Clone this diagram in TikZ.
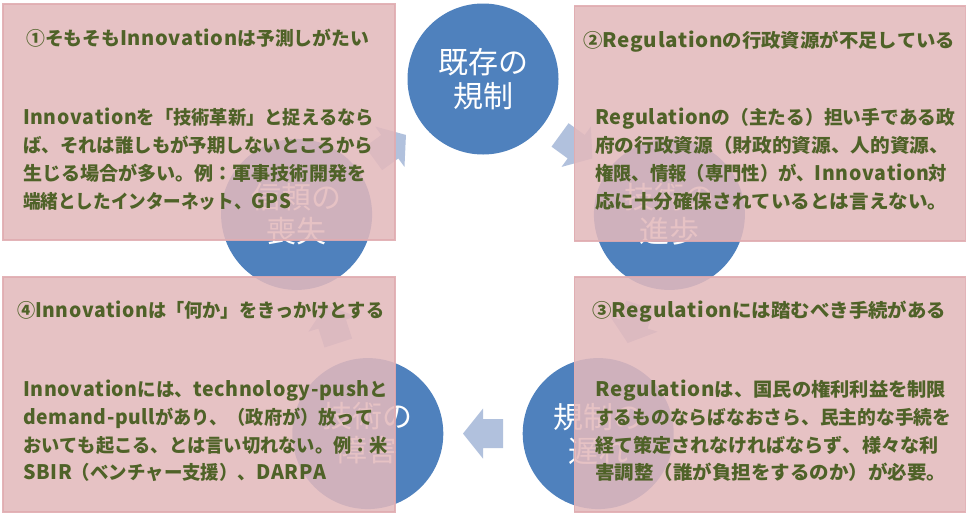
\documentclass[tikz,border=0pt]{standalone}
\usepackage{fontspec}
\usepackage{graphicx}
\setmainfont[Kerning=Off]{Noto Sans CJK JP}
\usetikzlibrary{calc}
\definecolor{circblue}{RGB}{79,129,189}
\definecolor{arrowblue}{RGB}{177,193,221}
\definecolor{boxpink}{RGB}{227,185,188}
\definecolor{boxline}{RGB}{224,172,177}
\definecolor{txtgreen}{RGB}{79,98,40}
\newcommand{\en}[1]{{\fontsize{20}{22}\selectfont\addfontfeature{LetterSpace=3}#1}}
\newcommand{\fitw}[2]{\resizebox{#1pt}{\height}{#2}}
\begin{document}
\begin{tikzpicture}[x=1pt,y=1pt,
  circ/.style={circle,fill=circblue,minimum size=151pt,inner sep=0pt,align=center,
    text=white,font=\fontsize{30}{34}\selectfont},
  arrowshape/.style={fill=arrowblue},
  textbox/.style={rectangle,fill=boxpink,fill opacity=0.87,draw=boxline,draw opacity=0.9,
    line width=1.5pt,anchor=north west,inner sep=0pt},
  txt/.style={anchor=base west,inner sep=0pt,text=txtgreen,font=\fontsize{18.8}{22}\selectfont\bfseries}]
\useasboundingbox (0,0) rectangle (966,-515);
\fill[white] (0,0) rectangle (966,-515);
\coordinate (cen) at (483,-275);
% circles
\node[circ] (c1) at ($(cen)+(90:196pt)$) {既存の\\規制};
\node[circ] (c2) at ($(cen)+(18:196pt)$) {技術の\\進歩};
\node[circ] (c3) at ($(cen)+(-54:196pt)$) {規制の\\遅れ};
\node[circ] (c4) at ($(cen)+(-126:196pt)$) {技術の\\障害};
\node[circ] (c5) at ($(cen)+(162:196pt)$) {信頼の\\喪失};
% block arrows (clockwise)
\foreach \a in {54,-18,-90,-162,126}{
  \begin{scope}[shift={($(cen)+(\a:158.6pt)$)},rotate=\a-90]
    \fill[arrowshape] (-20,-14.5) -- (0,-14.5) -- (0,-25) -- (20,0) -- (0,25) -- (0,14.5) -- (-20,14.5) -- cycle;
  \end{scope}
}
% text boxes
\node[textbox,minimum width=392pt,minimum height=236pt] (b1) at (2,-3) {};
\node[textbox,minimum width=391pt,minimum height=235pt] (b2) at (573.5,-5) {};
\node[textbox,minimum width=391pt,minimum height=235pt] (b3) at (573.5,-276) {};
\node[textbox,minimum width=392pt,minimum height=235pt] (b4) at (2,-276) {};
% box 1
\node[txt] (h1) at (26,-45.5) {\fitw{343}{①そもそも\en{Innovation}は予測しがたい}};
\node[txt] (t11) at (23,-124) {\fitw{351}{\en{Innovation}を「技術革新」と捉えるなら}};
\node[txt] (t12) at (23,-152) {\fitw{350}{ば、それは誰しもが予期しないところから}};
\node[txt] (t13) at (23,-180) {\fitw{343}{生じる場合が多い。例：軍事技術開発を}};
\node[txt] (t14) at (23,-208) {\fitw{268}{端緒としたインターネット、\en{GPS}}};
% box 2
\node[txt] (h2) at (583,-47) {\fitw{372}{②\en{Regulation}の行政資源が不足している}};
\node[txt] (t21) at (595,-124.5) {\fitw{360}{\en{Regulation}の（主たる）担い手である政}};
\node[txt] (t22) at (595,-152.5) {\fitw{354}{府の行政資源（財政的資源、人的資源、}};
\node[txt] (t23) at (595,-180.5) {\fitw{352}{権限、情報（専門性）が、\en{Innovation}対}};
\node[txt] (t24) at (595,-208.5) {\fitw{352}{応に十分確保されているとは言えない。}};
% box 3
\node[txt] (h3) at (592,-317.5) {\fitw{354}{③\en{Regulation}には踏むべき手続がある}};
\node[txt] (t31) at (595,-396.5) {\fitw{351}{\en{Regulation}は、国民の権利利益を制限}};
\node[txt] (t32) at (595,-424.3) {\fitw{356}{するものならばなおさら、民主的な手続を}};
\node[txt] (t33) at (595,-452.1) {\fitw{343}{経て策定されなければならず、様々な利}};
\node[txt] (t34) at (595,-479.9) {\fitw{351}{害調整（誰が負担をするのか）が必要。}};
% box 4
\node[txt] (h4) at (17,-317.5) {\fitw{367}{④\en{Innovation}は「何か」をきっかけとする}};
\node[txt] (t41) at (23,-396.5) {\fitw{365}{\en{Innovation}には、\en{technology-push}と}};
\node[txt] (t42) at (23,-424.3) {\fitw{350}{\en{demand-pull}があり、（政府が）放って}};
\node[txt] (t43) at (23,-452.1) {\fitw{365}{おいても起こる、とは言い切れない。例：米}};
\node[txt] (t44) at (23,-479.9) {\fitw{303}{\en{SBIR}（ベンチャー支援）、\en{DARPA}}};
\end{tikzpicture}
\end{document}
